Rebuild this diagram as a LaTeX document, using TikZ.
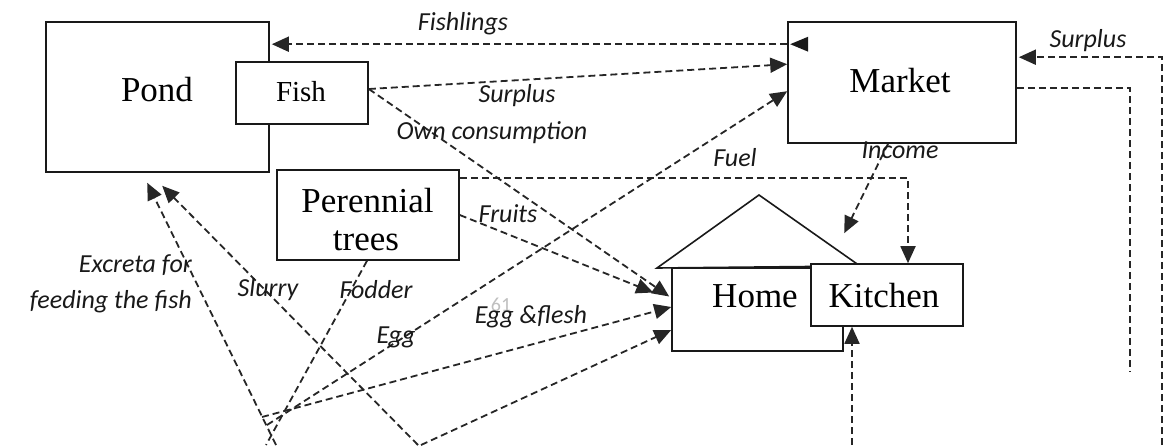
\documentclass[tikz,border=0pt]{standalone}
\usepackage{fontspec}
\setmainfont{Liberation Serif}
\newfontfamily\labelfont{Carlito}
\usetikzlibrary{arrows.meta}
\begin{document}
\begin{tikzpicture}[x=1pt,y=-1pt,
  box/.style={draw=black!90, line width=1.6pt, fill=white, rectangle, inner sep=0pt},
  boxtext/.style={font=\fontsize{35}{38}\selectfont, anchor=base, inner sep=0pt},
  flow/.style={draw=black!85, line width=1.8pt, dash pattern=on 7pt off 4pt},
  arr/.style={-{Triangle[length=17pt,width=15pt]}},
  lab/.style={font=\labelfont\itshape\fontsize{26}{36}\selectfont, inner sep=0pt, text=black!90},
]
\useasboundingbox (0,0) rectangle (1173,445);

% boxes
\node[box, minimum width=223pt, minimum height=150pt] (pond) at (157.5,97) {};
\node[boxtext] (pondt) at (157,101) {Pond};
\node[box, minimum width=132pt, minimum height=62pt] (fish) at (302,93) {};
\node[boxtext, font=\fontsize{29}{34}\selectfont] (fisht) at (301,101) {Fish};
\node[box, minimum width=228pt, minimum height=121pt] (market) at (902,82.5) {};
\node[boxtext] (markett) at (900,92) {Market};
\node[box, minimum width=182pt, minimum height=90pt] (peren) at (368,215) {};
\node[boxtext] (perent1) at (367.5,212) {Perennial};
\node[boxtext] (perent2) at (366,250) {trees};

\node[box, minimum width=171pt, minimum height=83pt] (home) at (757.5,309.5) {};
\coordinate (roofL) at (657,268);
\coordinate (roofT) at (759,195);
\coordinate (roofR) at (860,266);
\draw[draw=black!90, line width=1.6pt] (roofL) -- (roofT) -- (roofR) -- cycle;
\node[boxtext] (homet) at (755,307) {Home};
\node[box, minimum width=152pt, minimum height=62pt] (kitchen) at (887,295) {};
\node[boxtext] (kitchent) at (884,307) {Kitchen};

% free ends (source outside the picture)
\coordinate (sEx) at (276,445);
\coordinate (sSl) at (418,445);
\coordinate (sFo) at (266,445);
\coordinate (sEg) at (267,425);
\coordinate (sEf) at (262,417);
\coordinate (sB) at (421,445);
\coordinate (mEnd) at (1130,372);
\coordinate (sRt) at (1162,445);
\coordinate (sKi) at (852,445);

% connectors
\draw[flow, arr] ([yshift=-23pt]market.north west) -- ([yshift=-23pt, xshift=2pt]pond.north east);
\fill[black!90] ([xshift=3pt, yshift=-23pt]market.north west) -- ++(18,-7.5) -- ++(0,15) -- cycle;
\draw[flow, arr] ([yshift=4pt]fish.east) -- ([yshift=-43pt]market.north west);
\draw[flow, arr] ([yshift=4pt]fish.east) -- ([yshift=13pt, xshift=-2pt]home.west);
\draw[flow, arr] (peren.east) -- ([yshift=17pt, xshift=-18pt]home.west);
\draw[flow, arr] ([yshift=-9pt]peren.north east) -| ([xshift=21pt]kitchen.north);
\draw[flow, arr] ([xshift=-14pt]market.south) -- ([xshift=34pt, yshift=30pt]kitchen.north west);
\draw[flow] ([yshift=-67pt]market.north east) -| (mEnd);
\draw[flow, arr] (sRt) |- ([yshift=-36pt, xshift=2pt]market.north east);
\draw[flow, arr] (sKi) -- (sKi |- kitchen.south);
\draw[flow, arr] (sEx) -- ([xshift=102pt, yshift=-10pt]pond.south west);
\draw[flow, arr] (sSl) -- ([xshift=117pt, yshift=-13pt]pond.south west);
\draw[flow] ([xshift=-1pt]peren.south) -- (sFo);
\draw[flow, arr] (sEg) -- ([yshift=-70pt]market.north west);
\draw[flow, arr] (sEf) -- ([yshift=2.5pt]home.west);
\draw[flow, arr] (sB) -- ([yshift=-20.5pt]home.west);

% labels
\node[lab] (lFishlings) at (463,24) {Fishlings};
\node[lab] (lSurplus1) at (517,96) {Surplus};
\node[lab] (lOwn) at (492,133) {Own consumption};
\node[lab] (lFuel) at (735,158) {Fuel};
\node[lab] (lIncome) at (900,150) {Income};
\node[lab] (lSurplus2) at (1088,41) {Surplus};
\node[lab] (lFruits) at (508,214) {Fruits};
\node[lab, align=right, anchor=east] (lExcreta) at (192,284) {Excreta for\\feeding the fish};
\node[lab] (lSlurry) at (268,290) {Slurry};
\node[lab] (lFodder) at (376,290) {Fodder};
\node[lab] (lEgg) at (396,337) {Egg};
\node[lab, text=black!25, font=\labelfont\fontsize{20}{24}\selectfont] (lPage) at (501,305) {61};
\node[lab] (lEggFlesh) at (531,317) {Egg \&flesh};
\end{tikzpicture}
\end{document}
